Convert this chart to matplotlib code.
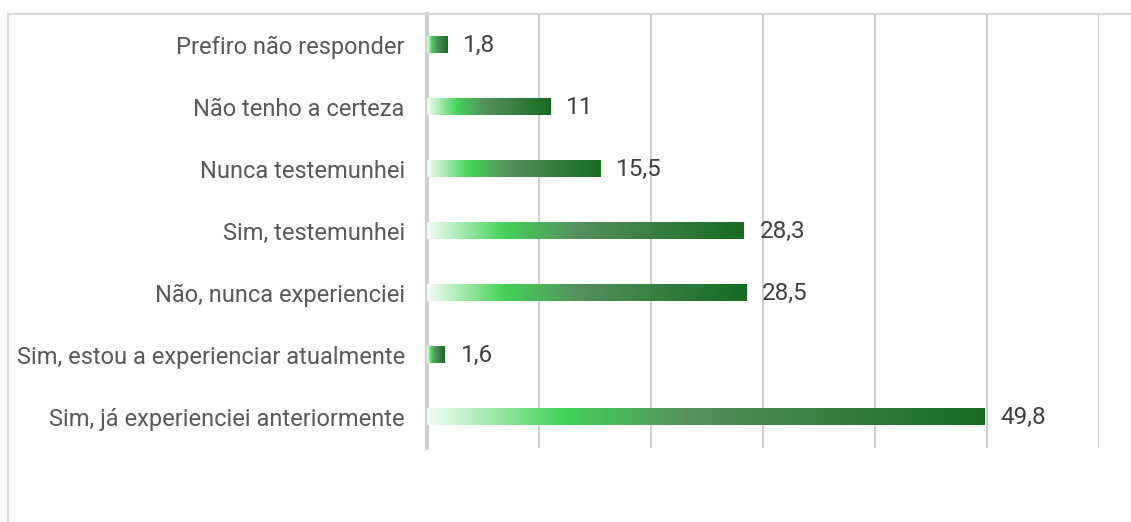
import matplotlib.pyplot as plt
import numpy as np
from matplotlib.colors import LinearSegmentedColormap
from matplotlib.patches import Rectangle

# Dados (de cima para baixo)
categorias = [
    "Prefiro não responder",
    "Não tenho a certeza",
    "Nunca testemunhei",
    "Sim, testemunhei",
    "Não, nunca experienciei",
    "Sim, estou a experienciar atualmente",
    "Sim, já experienciei anteriormente",
]
valores = [1.8, 11, 15.5, 28.3, 28.5, 1.6, 49.8]
rotulos = ["1,8", "11", "15,5", "28,3", "28,5", "1,6", "49,8"]

plt.rcParams['font.family'] = ['Roboto', 'DejaVu Sans']

# Gradiente verde das barras
cmap = LinearSegmentedColormap.from_list(
    "verde",
    [(0.0, "#f3fcf4"), (0.24, "#45d35a"), (0.47, "#56905e"), (1.0, "#176b22")])
grad = np.linspace(0, 1, 256).reshape(1, -1)

fig = plt.figure(figsize=(11.31, 5.22), dpi=100)
ax = fig.add_axes([427 / 1131, 1 - 448 / 522, 672 / 1131, 434 / 522])

# Moldura do gráfico
fig.patches.append(Rectangle((8 / 1131, -0.1), 1.2, 1 - 14 / 522 + 0.1,
                             transform=fig.transFigure, fill=False,
                             edgecolor="#d9d9d9", linewidth=1.5))

n = len(categorias)
altura = 0.26

for i, (v, txt) in enumerate(zip(valores, rotulos)):
    ax.imshow(grad, cmap=cmap, aspect='auto', interpolation='bilinear',
              extent=(0, v, i + altura / 2, i - altura / 2), zorder=3)
    ax.text(v + 1.4, i, txt, va='center', ha='left', fontsize=17.5,
            color="#404040")

ax.set_xlim(0, 60)
ax.set_ylim(n - 0.5, -0.5)
ax.set_yticks(range(n))
ax.set_yticklabels(categorias, fontsize=17, color="#595959")
ax.tick_params(axis='y', length=0, pad=16)
ax.set_xticks(np.arange(0, 61, 10))
ax.tick_params(axis='x', length=0, labelbottom=False)
ax.grid(axis='x', color="#d0d0d0", linewidth=1.5, zorder=0)
ax.set_axisbelow(True)
for s in ["top", "right", "bottom"]:
    ax.spines[s].set_visible(False)
ax.spines["left"].set_color("#d0d0d0")
ax.spines["left"].set_linewidth(3)

fig.savefig("out.png", dpi=100, facecolor="white")
